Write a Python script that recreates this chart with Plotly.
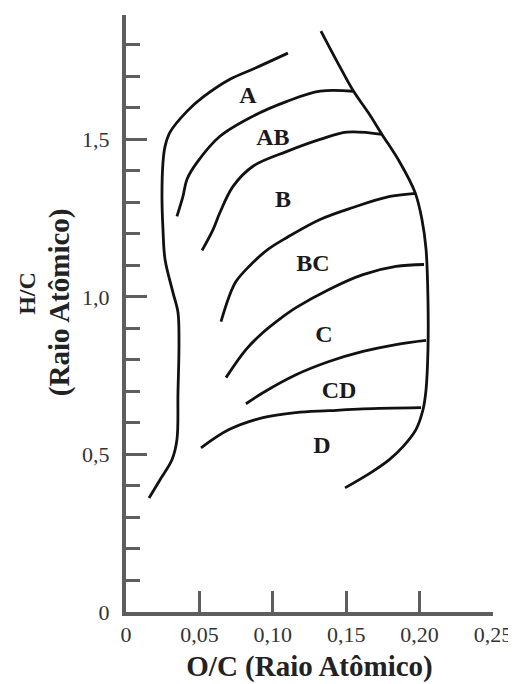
import plotly.graph_objects as go

# ---------------- data (O/C, H/C) ----------------
left_x = [0.0157, 0.0232, 0.0313, 0.0347, 0.0354, 0.0361, 0.0354, 0.0320, 0.0266, 0.0252,
          0.0245, 0.0252, 0.0266, 0.0300, 0.0415, 0.0524, 0.0708, 0.0878, 0.1103]
left_y = [0.362, 0.420, 0.483, 0.547, 0.696, 0.855, 0.951, 1.014, 1.119, 1.214,
          1.319, 1.427, 1.478, 1.523, 1.589, 1.634, 1.691, 1.726, 1.774]

a_ab_x = [0.0347, 0.0388, 0.0415, 0.0484, 0.0640, 0.0865, 0.1097, 0.1322, 0.1546]
a_ab_y = [1.256, 1.319, 1.373, 1.427, 1.510, 1.574, 1.621, 1.653, 1.653]

ab_b_x = [0.0518, 0.0593, 0.0640, 0.0729, 0.0865, 0.1097, 0.1322, 0.1505, 0.1744]
ab_b_y = [1.148, 1.214, 1.268, 1.351, 1.415, 1.462, 1.500, 1.523, 1.516]

b_bc_x = [0.0647, 0.0702, 0.0749, 0.0838, 0.0967, 0.1097, 0.1322, 0.1546, 0.1798, 0.1975]
b_bc_y = [0.922, 1.001, 1.049, 1.097, 1.151, 1.189, 1.246, 1.284, 1.319, 1.329]

bc_c_x = [0.0681, 0.0817, 0.0933, 0.1042, 0.1158, 0.1383, 0.1614, 0.1839, 0.2030]
bc_c_y = [0.744, 0.833, 0.887, 0.928, 0.966, 1.024, 1.071, 1.097, 1.103]

c_cd_x = [0.0817, 0.0933, 0.1158, 0.1383, 0.1614, 0.1839, 0.2044]
c_cd_y = [0.661, 0.696, 0.753, 0.795, 0.827, 0.849, 0.862]

cd_d_x = [0.0511, 0.0702, 0.0933, 0.1158, 0.1383, 0.1614, 0.2010]
cd_d_y = [0.521, 0.579, 0.617, 0.633, 0.639, 0.645, 0.649]

right_x = [0.1328, 0.1437, 0.1546, 0.1649, 0.1744, 0.1866, 0.1969, 0.2016, 0.2044, 0.2057,
           0.2057, 0.2044, 0.2023, 0.1975, 0.1887, 0.1792, 0.1676, 0.1492]
right_y = [1.844, 1.748, 1.656, 1.586, 1.516, 1.427, 1.332, 1.246, 1.151, 0.992,
           0.833, 0.706, 0.642, 0.579, 0.525, 0.483, 0.445, 0.394]

region_names = ["A", "AB", "B", "BC", "C", "CD", "D"]
region_x = [0.0831, 0.1001, 0.1069, 0.1274, 0.1349, 0.1451, 0.1335]
region_y = [1.634, 1.500, 1.306, 1.100, 0.877, 0.699, 0.525]

x_tickvals = [0, 0.05, 0.10, 0.15, 0.20, 0.25]
x_ticktext = ["0", "0,05", "0,10", "0,15", "0,20", "0,25"]
y_tickvals = [0, 0.5, 1.0, 1.5]
y_ticktext = ["0", "0,5", "1,0", "1,5"]

# ---------------- figure ----------------
SERIF = "Liberation Serif, Times New Roman, serif"
AXIS_GREY = "#5e5e5e"

fig = go.Figure()
curves = [(left_x, left_y), (a_ab_x, a_ab_y), (ab_b_x, ab_b_y), (b_bc_x, b_bc_y),
          (bc_c_x, bc_c_y), (c_cd_x, c_cd_y), (cd_d_x, cd_d_y), (right_x, right_y)]
for cx, cy in curves:
    fig.add_trace(go.Scatter(x=cx, y=cy, mode="lines",
                             line=dict(color="#111111", width=2.8, shape="spline", smoothing=1.0),
                             hoverinfo="skip", showlegend=False))

fig.add_trace(go.Scatter(x=region_x, y=region_y, mode="text", text=region_names,
                         textfont=dict(family=SERIF, size=24, color="#1a1a1a", weight="bold"),
                         textposition="middle center", showlegend=False, hoverinfo="skip"))

# page body has an 8px margin: figure is 508x676 so it fills the 516x684 window
fig.update_layout(
    template="none",
    width=508, height=676, autosize=False,
    margin=dict(l=118, r=23, t=7, b=72, pad=0),
    paper_bgcolor="white", plot_bgcolor="white",
    font=dict(family=SERIF, color="#333333"),
    showlegend=False,
)

fig.update_xaxes(
    range=[0, 0.25], automargin=False,
    showgrid=False, zeroline=False,
    showline=True, linewidth=4, linecolor=AXIS_GREY,
    ticks="inside", ticklen=21, tickwidth=3, tickcolor=AXIS_GREY,
    tickvals=x_tickvals, ticktext=x_ticktext,
    tickfont=dict(family=SERIF, size=22, color="#333333"),
    ticklabelstandoff=0,
    title=dict(text="<b>O/C (Raio Atômico)</b>", font=dict(family=SERIF, size=29, color="#222222"),
               standoff=10),
)

fig.update_yaxes(
    range=[0, 1.895], automargin=False,
    showgrid=False, zeroline=False,
    showline=True, linewidth=4, linecolor=AXIS_GREY,
    ticks="inside", ticklen=21, tickwidth=3, tickcolor=AXIS_GREY,
    tickvals=y_tickvals, ticktext=y_ticktext,
    tickfont=dict(family=SERIF, size=22, color="#333333"),
    ticklabelstandoff=8,
    minor=dict(ticks="inside", ticklen=14, tickwidth=3, tickcolor=AXIS_GREY, dtick=0.1, tick0=0),
)

# y-axis title (two lines, rotated)
fig.add_annotation(text="<b>H/C</b>", xref="paper", yref="paper", x=0, y=0.533,
                   xshift=-99, xanchor="center", yanchor="middle", textangle=-90,
                   showarrow=False, font=dict(family=SERIF, size=24, color="#222222"))
fig.add_annotation(text="<b>(Raio Atômico)</b>", xref="paper", yref="paper", x=0, y=0.519,
                   xshift=-67, xanchor="center", yanchor="middle", textangle=-90,
                   showarrow=False, font=dict(family=SERIF, size=29, color="#222222"))

fig.write_html("out.html")
